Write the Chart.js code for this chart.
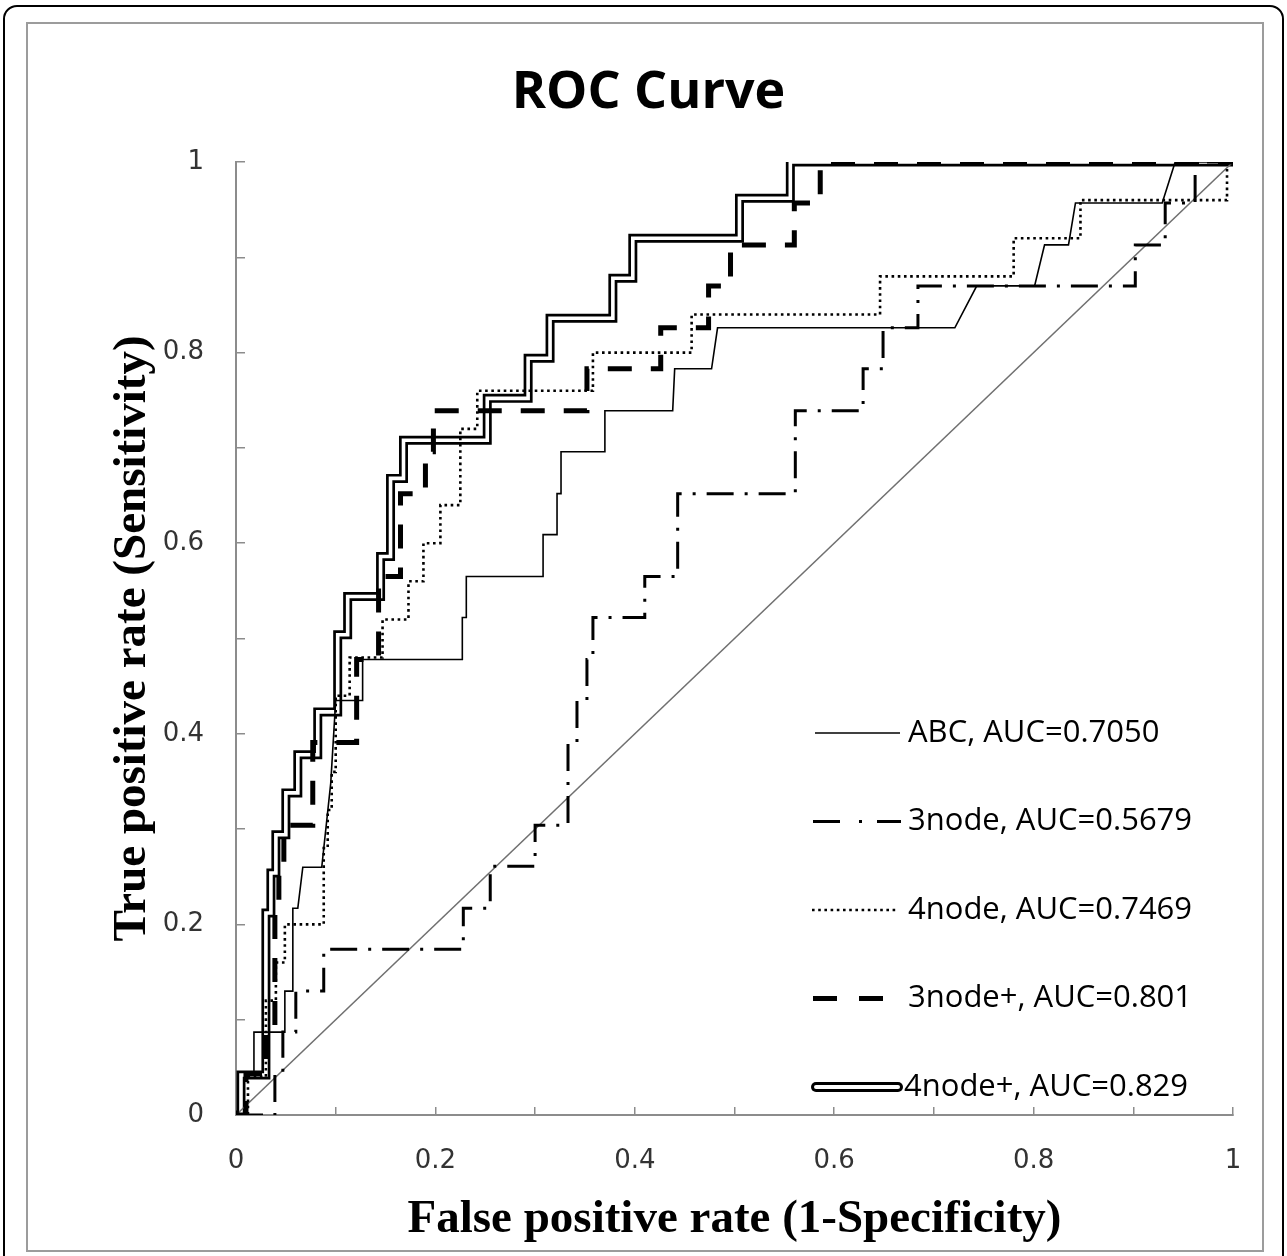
<!DOCTYPE html>
<html><head><meta charset="utf-8">
<script src="https://cdn.jsdelivr.net/npm/chart.js@4.4.1/dist/chart.umd.min.js"></script>
<style>
html,body{margin:0;padding:0;background:#fff;}
#wrap{position:relative;width:1287px;height:1256px;overflow:hidden;}
#outer{position:absolute;left:3px;top:5px;width:1277px;height:1280px;border:2px solid #000;border-radius:14px;}
#inner{position:absolute;left:26px;top:22px;width:1234px;height:1226px;border:2px solid #9c9c9c;}
canvas{position:absolute;left:0;top:0;}
</style></head>
<body><div id="wrap"><div id="outer"></div><div id="inner"></div><canvas id="c" width="1287" height="1256"></canvas></div>
<script>
// ---- data ----
const seriesNames = ['ABC, AUC=0.7050', '3node, AUC=0.5679', '4node, AUC=0.7469', '3node+, AUC=0.801', '4node+, AUC=0.829'];
const tickValues = [0, 0.2, 0.4, 0.6, 0.8, 1];
const xTickLabels = ['0', '0.2', '0.4', '0.6', '0.8', '1'];
const yTickLabels = ['0', '0.2', '0.4', '0.6', '0.8', '1'];

const abcX = [0, 0.002, 0.002, 0.018, 0.018, 0.049, 0.049, 0.057, 0.057, 0.062, 0.067, 0.086, 0.095, 0.1, 0.127, 0.127, 0.227, 0.227, 0.231, 0.231, 0.308, 0.308, 0.322, 0.322, 0.326, 0.326, 0.37, 0.37, 0.438, 0.44, 0.477, 0.483, 0.721, 0.743, 0.801, 0.811, 0.835, 0.842, 0.929, 0.942, 1];
const abcY = [0, 0, 0.045, 0.045, 0.087, 0.087, 0.13, 0.13, 0.217, 0.217, 0.26, 0.26, 0.348, 0.435, 0.435, 0.478, 0.478, 0.522, 0.522, 0.565, 0.565, 0.609, 0.609, 0.652, 0.652, 0.696, 0.696, 0.739, 0.739, 0.783, 0.783, 0.826, 0.826, 0.870, 0.870, 0.913, 0.913, 0.957, 0.957, 1, 1];

const n3X = [0, 0.039, 0.039, 0.047, 0.047, 0.06, 0.06, 0.088, 0.088, 0.228, 0.228, 0.255, 0.255, 0.3, 0.3, 0.333, 0.333, 0.342, 0.342, 0.352, 0.352, 0.358, 0.358, 0.41, 0.41, 0.443, 0.443, 0.561, 0.561, 0.629, 0.629, 0.649, 0.649, 0.684, 0.684, 0.902, 0.902, 0.932, 0.932, 0.962, 0.962, 1];
const n3Y = [0, 0, 0.044, 0.044, 0.087, 0.087, 0.13, 0.13, 0.174, 0.174, 0.217, 0.217, 0.261, 0.261, 0.304, 0.304, 0.391, 0.391, 0.435, 0.435, 0.478, 0.478, 0.522, 0.522, 0.565, 0.565, 0.652, 0.652, 0.739, 0.739, 0.783, 0.783, 0.826, 0.826, 0.870, 0.870, 0.913, 0.913, 0.957, 0.957, 1, 1];

const n4X = [0, 0.012, 0.012, 0.03, 0.03, 0.04, 0.04, 0.049, 0.049, 0.088, 0.088, 0.092, 0.092, 0.096, 0.096, 0.1, 0.1, 0.114, 0.114, 0.147, 0.147, 0.173, 0.173, 0.188, 0.188, 0.205, 0.205, 0.225, 0.225, 0.242, 0.242, 0.358, 0.358, 0.457, 0.457, 0.646, 0.646, 0.78, 0.78, 0.847, 0.847, 0.994, 0.994, 1];
const n4Y = [0, 0, 0.04, 0.04, 0.12, 0.12, 0.16, 0.16, 0.2, 0.2, 0.28, 0.28, 0.32, 0.32, 0.36, 0.36, 0.44, 0.44, 0.48, 0.48, 0.52, 0.52, 0.56, 0.56, 0.6, 0.6, 0.64, 0.64, 0.72, 0.72, 0.76, 0.76, 0.8, 0.8, 0.84, 0.84, 0.88, 0.88, 0.92, 0.92, 0.96, 0.96, 1, 1];

const n3pX = [0, 0.01, 0.01, 0.03, 0.03, 0.039, 0.039, 0.043, 0.043, 0.048, 0.048, 0.077, 0.077, 0.121, 0.121, 0.143, 0.143, 0.165, 0.165, 0.19, 0.19, 0.198, 0.198, 0.352, 0.352, 0.426, 0.426, 0.474, 0.474, 0.496, 0.496, 0.56, 0.56, 0.586, 0.586, 1];
const n3pY = [0, 0, 0.043, 0.043, 0.087, 0.087, 0.217, 0.217, 0.261, 0.261, 0.304, 0.304, 0.391, 0.391, 0.478, 0.478, 0.565, 0.565, 0.652, 0.652, 0.696, 0.696, 0.739, 0.739, 0.783, 0.783, 0.826, 0.826, 0.870, 0.870, 0.913, 0.913, 0.957, 0.957, 1, 1];

const n4pX = [0, 0.005, 0.005, 0.03, 0.03, 0.035, 0.035, 0.04, 0.04, 0.05, 0.05, 0.062, 0.062, 0.082, 0.082, 0.102, 0.102, 0.112, 0.112, 0.145, 0.145, 0.155, 0.155, 0.168, 0.168, 0.252, 0.252, 0.293, 0.293, 0.315, 0.315, 0.378, 0.378, 0.398, 0.398, 0.505, 0.505, 0.556, 0.556, 1];
const n4pY = [0, 0, 0.042, 0.042, 0.212, 0.212, 0.254, 0.254, 0.294, 0.294, 0.338, 0.338, 0.378, 0.378, 0.423, 0.423, 0.504, 0.504, 0.544, 0.544, 0.586, 0.586, 0.668, 0.668, 0.708, 0.708, 0.752, 0.752, 0.794, 0.794, 0.836, 0.836, 0.878, 0.878, 0.92, 0.92, 0.962, 0.962, 1, 1];

const diagX = [0, 1];
const diagY = [0, 1];

const chartTitle = 'ROC Curve';
const xTitle = 'False positive rate (1-Specificity)';
const yTitle = 'True positive rate (Sensitivity)';

// ---- helpers ----
function pts(xs, ys) { return xs.map((x, i) => ({ x: x, y: ys[i] })); }
function labelFor(v, labels) {
  const i = tickValues.findIndex(t => Math.abs(t - v) < 1e-6);
  return i >= 0 ? labels[i] : '';
}
const base = { pointRadius: 0, pointHoverRadius: 0, tension: 0, fill: false, borderJoinStyle: 'miter', borderCapStyle: 'butt' };

const legendStyles = [
  { width: 1.6, dash: [], from: 3, to: 88 },
  { width: 3, dash: [27, 19, 3, 15], from: 1, to: 89 },
  { width: 2.6, dash: [2.6, 3.6], from: 0, to: 86 },
  { width: 5, dash: [24, 22], from: 1, to: 71 },
  { width: 0, dash: [], from: 4, to: 86, doubleLine: true }
];

const legendPlugin = {
  id: 'rocLegend',
  afterDraw(chart) {
    const ctx = chart.ctx, a = chart.chartArea;
    const sx = a.left + 576, tx = a.left + 672;
    const y0 = a.top + 571, dy = 88.5;
    ctx.save();
    ctx.font = '31px "Open Sans"';
    ctx.textBaseline = 'middle';
    ctx.textAlign = 'left';
    legendStyles.forEach((st, i) => {
      const y = y0 + i * dy;
      ctx.strokeStyle = '#000';
      if (st.doubleLine) {
        ctx.setLineDash([]);
        ctx.lineCap = 'round';
        ctx.lineWidth = 10;
        ctx.beginPath(); ctx.moveTo(sx + st.from, y); ctx.lineTo(sx + st.to, y); ctx.stroke();
        ctx.strokeStyle = '#fff';
        ctx.lineWidth = 4;
        ctx.beginPath(); ctx.moveTo(sx + st.from, y); ctx.lineTo(sx + st.to, y); ctx.stroke();
      } else {
        ctx.lineCap = 'butt';
        ctx.lineWidth = st.width;
        ctx.setLineDash(st.dash);
        ctx.beginPath(); ctx.moveTo(sx + st.from, y); ctx.lineTo(sx + st.to, y); ctx.stroke();
      }
      ctx.setLineDash([]);
      ctx.fillStyle = '#000';
      ctx.fillText(seriesNames[i], st.doubleLine ? tx - 4 : tx, y);
    });
    ctx.restore();
  }
};

new Chart(document.getElementById('c'), {
  type: 'line',
  data: {
    datasets: [
      Object.assign({}, base, { label: seriesNames[4], data: pts(n4pX, n4pY), borderColor: '#000', borderWidth: 9, order: 7 }),
      Object.assign({}, base, { label: seriesNames[4] + ' (inner)', data: pts(n4pX, n4pY), borderColor: '#fff', borderWidth: 3.6, order: 6 }),
      Object.assign({}, base, { label: 'reference', data: pts(diagX, diagY), borderColor: '#707070', borderWidth: 1.5, order: 5 }),
      Object.assign({}, base, { label: seriesNames[0], data: pts(abcX, abcY), borderColor: '#000', borderWidth: 1.6, order: 4 }),
      Object.assign({}, base, { label: seriesNames[2], data: pts(n4X, n4Y), borderColor: '#000', borderWidth: 2.6, borderDash: [2.6, 3.6], order: 3 }),
      Object.assign({}, base, { label: seriesNames[1], data: pts(n3X, n3Y), borderColor: '#000', borderWidth: 3, borderDash: [27, 11, 3, 11], order: 2 }),
      Object.assign({}, base, { label: seriesNames[3], data: pts(n3pX, n3pY), borderColor: '#000', borderWidth: 5, borderDash: [24, 19], order: 1 })
    ]
  },
  options: {
    responsive: false,
    animation: false,
    devicePixelRatio: 1,
    events: [],
    layout: { padding: { left: 10, right: 0, top: 0, bottom: 0 } },
    plugins: {
      legend: { display: false },
      tooltip: { enabled: false },
      title: { display: true, text: chartTitle, color: '#000', font: { family: 'Open Sans', weight: 'bold', size: 52 }, padding: { top: 62, bottom: 37.6 } }
    },
    scales: {
      x: {
        type: 'linear', min: 0, max: 1,
        afterFit: s => { s.height = 141; },
        border: { display: true, color: '#8c8c8c', width: 2 },
        grid: { drawOnChartArea: false, drawTicks: true, tickLength: -8, color: '#8c8c8c', lineWidth: 1.5 },
        ticks: { stepSize: 0.1, autoSkip: false, maxRotation: 0, padding: 39, color: '#333', font: { family: 'DejaVu Sans', size: 26 }, callback: v => labelFor(v, xTickLabels) },
        title: { display: true, text: xTitle, color: '#000', font: { family: 'Liberation Serif', weight: 'bold', size: 47 }, padding: { top: 0, bottom: 7.8 } }
      },
      y: {
        type: 'linear', min: 0, max: 1,
        afterFit: s => { s.width = 226; },
        border: { display: true, color: '#8c8c8c', width: 2 },
        grid: { drawOnChartArea: false, drawTicks: true, tickLength: -9, color: '#8c8c8c', lineWidth: 1.5 },
        ticks: { stepSize: 0.1, autoSkip: false, padding: 41, color: '#333', font: { family: 'DejaVu Sans', size: 26 }, callback: v => labelFor(v, yTickLabels) },
        title: { display: true, text: yTitle, color: '#000', font: { family: 'Liberation Serif', weight: 'bold', size: 47 }, padding: { top: 95, bottom: 0 } }
      },
      yRight: {
        type: 'linear', position: 'right', min: 0, max: 1, display: true,
        afterFit: s => { s.width = 54; },
        border: { display: false },
        grid: { display: false },
        ticks: { display: false }
      }
    }
  },
  plugins: [legendPlugin]
});
</script>
</body></html>
